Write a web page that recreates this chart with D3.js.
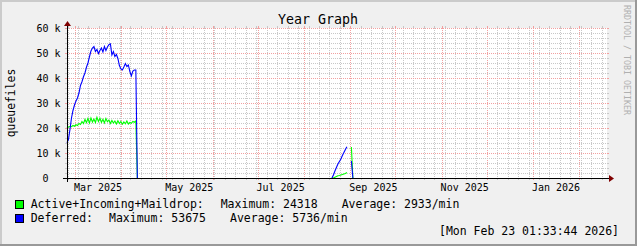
<!DOCTYPE html>
<html>
<head>
<meta charset="utf-8">
<script src="https://cdn.jsdelivr.net/npm/d3@7/dist/d3.min.js"></script>
<style>
  body { margin: 0; background: #f0f0f0; }
  svg { display: block; }
  text { font-family: "DejaVu Sans Mono", monospace; fill: #000; }
</style>
</head>
<body>
<svg id="chart" width="637" height="246"></svg>
<script>
// ---- data (queue files, one sample per day) ----
const DAY = 864e5;
const rangeStart = Date.UTC(2025, 1, 23, 15, 20);
const rangeEnd = Date.UTC(2026, 1, 19, 10, 0);

// first burst, starts at rangeStart
const springOffset = 0;
const activeSpring = [
  20000, 20400, 20600, 20500, 21000, 20700, 21300, 21000, 21800, 21400,
  22600, 21800, 23400, 22200, 23800, 22000, 24000, 22400, 23600, 22200,
  24318, 22600, 23900, 22300, 23500, 22000, 23800, 22500, 23200, 21800,
  23000, 22000, 22800, 21600, 22900, 21800, 22600, 21500, 22400, 21700,
  22800, 21600, 22200, 21900, 22600, 22300, 22800, 0
];
const deferredSpring = [
  14100, 15500, 19500, 24000, 27000, 29200, 30800, 32000, 34000, 37000,
  38500, 40500, 42000, 44300, 46000, 48500, 50800, 52000, 52600, 50600,
  51400, 49800, 51000, 52000, 50400, 52600, 51000, 52400, 53300, 53675,
  49200, 50600, 48600, 49400, 47800, 45000, 43600, 43200, 44400, 45800,
  44600, 45200, 42600, 40800, 42800, 43200, 43200, 0
];

// second burst, in days after rangeStart
const summerOffset = 177;
const activeSummer = [0, 0, 300, 600, 900, 1000, 1200, 1400, 1600, 1800, 2200, NaN, NaN, 12400, 0];
const deferredSummer = [0, 1200, 2800, 4200, 5600, 6600, 7600, 9000, 10200, 11400, 12500, NaN, NaN, 6800, 0];

const yTicks = [0, 10000, 20000, 30000, 40000, 50000, 60000];
const xTickLabels = ["Mar 2025", "May 2025", "Jul 2025", "Sep 2025", "Nov 2025", "Jan 2026"];

const seriesNames = ["Active+Incoming+Maildrop:", "Deferred:"];
const seriesColors = ["#00ff00", "#0000ff"];
const seriesMax = ["Maximum: 24318", "Maximum: 53675"];
const seriesAvg = ["Average: 2933/min", "Average: 5736/min"];

// ---- layout ----
const W = 637, H = 246;
const x0 = 67, x1 = 607, yTop = 28, yBot = 178;

const svg = d3.select("#chart");
const x = d3.scaleUtc().domain([rangeStart, rangeEnd]).range([x0, x1]);
const y = d3.scaleLinear().domain([0, 60000]).range([yBot, yTop]);

function toPoints(values, offset) {
  return values.map((v, i) => ({ t: new Date(rangeStart + (offset + i) * DAY), v }));
}

// background + 3d frame
svg.append("rect").attr("width", W).attr("height", H).attr("fill", "#f0f0f0");
svg.append("rect").attr("x", 0).attr("y", 0).attr("width", W).attr("height", 2).attr("fill", "#cbcbcb");
svg.append("rect").attr("x", 0).attr("y", 0).attr("width", 2).attr("height", H).attr("fill", "#cbcbcb");
svg.append("rect").attr("x", 0).attr("y", H - 2).attr("width", W).attr("height", 2).attr("fill", "#999");
svg.append("rect").attr("x", W - 2).attr("y", 0).attr("width", 2).attr("height", H).attr("fill", "#999");

// canvas
svg.append("rect").attr("x", x0).attr("y", yTop).attr("width", x1 - x0).attr("height", yBot - yTop).attr("fill", "#fff");

const grid = svg.append("g").attr("shape-rendering", "crispEdges");
const minorCol = "#c8c8c8", majorCol = "#f2a0a0";

// vertical minor (weekly) and major (monthly) lines
const weeks = d3.utcMonday.range(new Date(rangeStart), new Date(rangeEnd));
const months = d3.utcMonth.range(new Date(rangeStart), new Date(rangeEnd));
weeks.forEach(d => {
  const px = Math.round(x(d)) + 0.5;
  grid.append("line").attr("x1", px).attr("x2", px).attr("y1", yTop).attr("y2", yBot)
    .attr("stroke", minorCol).attr("stroke-dasharray", "1,1");
  grid.append("line").attr("x1", px).attr("x2", px).attr("y1", yBot).attr("y2", yBot + 2).attr("stroke", minorCol);
  grid.append("line").attr("x1", px).attr("x2", px).attr("y1", yTop - 2).attr("y2", yTop).attr("stroke", minorCol);
});
months.forEach(d => {
  const px = Math.round(x(d)) + 0.5;
  grid.append("line").attr("x1", px).attr("x2", px).attr("y1", yTop).attr("y2", yBot)
    .attr("stroke", majorCol).attr("stroke-dasharray", "1,1");
  grid.append("line").attr("x1", px).attr("x2", px).attr("y1", yBot).attr("y2", yBot + 2).attr("stroke", majorCol);
  grid.append("line").attr("x1", px).attr("x2", px).attr("y1", yTop - 2).attr("y2", yTop).attr("stroke", majorCol);
});

// horizontal minor (2k) and major (10k) lines
d3.range(0, 60001, 2000).forEach(v => {
  const major = v % 10000 === 0;
  const col = major ? majorCol : minorCol;
  const py = Math.round(y(v)) + 0.5;
  grid.append("line").attr("x1", x0).attr("x2", x1).attr("y1", py).attr("y2", py)
    .attr("stroke", col).attr("stroke-dasharray", "1,1");
  grid.append("line").attr("x1", x0 - 2).attr("x2", x0).attr("y1", py).attr("y2", py).attr("stroke", col);
  grid.append("line").attr("x1", x1).attr("x2", x1 + 2).attr("y1", py).attr("y2", py).attr("stroke", col);
});

// series lines
const line = d3.line()
  .defined(d => !isNaN(d.v))
  .x(d => x(d.t))
  .y(d => y(d.v));

const series = [
  [toPoints(activeSpring, springOffset), toPoints(activeSummer, summerOffset)],
  [toPoints(deferredSpring, springOffset), toPoints(deferredSummer, summerOffset)]
];
series.forEach((parts, i) => {
  parts.forEach(pts => {
    svg.append("path").datum(pts).attr("d", line)
      .attr("fill", "none").attr("stroke", seriesColors[i]).attr("stroke-width", 1.1);
  });
});

// axes lines and arrows
const axis = svg.append("g").attr("shape-rendering", "crispEdges");
axis.append("line").attr("x1", x0 - 4).attr("x2", x1 + 4).attr("y1", yBot + 0.5).attr("y2", yBot + 0.5).attr("stroke", "#000");
axis.append("line").attr("x1", x0 + 0.5).attr("x2", x0 + 0.5).attr("y1", yBot + 4).attr("y2", yTop - 4).attr("stroke", "#000");
svg.append("path")
  .attr("d", `M${x1 + 2},${yBot - 3}L${x1 + 2},${yBot + 4}L${x1 + 7},${yBot + 0.5}Z`)
  .attr("fill", "#7f0000");
svg.append("path")
  .attr("d", `M${x0 - 3},${yTop - 2}L${x0 + 4},${yTop - 2}L${x0 + 0.5},${yTop - 7}Z`)
  .attr("fill", "#7f0000");

// y tick labels
const yAxis = d3.axisLeft(y).tickValues(yTicks).tickSize(0).tickPadding(6.5)
  .tickFormat(d => d === 0 ? "0" : (d / 1000) + " k");
const gy = svg.append("g").attr("transform", `translate(${x0},0)`).call(yAxis);
gy.select(".domain").remove();
gy.selectAll("text").attr("font-size", 10).attr("font-family", "DejaVu Sans Mono").attr("fill", "#000")
  .attr("dx", d => d === 0 ? -12 : 0);

// x tick labels, centred half a month after the month start
const parseLabel = d3.utcParse("%b %Y");
const labelDates = xTickLabels.map(s => d3.utcDay.offset(parseLabel(s), 15));
const xAxis = d3.axisBottom(x).tickValues(labelDates).tickSize(0).tickPadding(5.4)
  .tickFormat((d, i) => xTickLabels[i]);
const gx = svg.append("g").attr("transform", `translate(0,${yBot})`).call(xAxis);
gx.select(".domain").remove();
gx.selectAll("text").attr("font-size", 10).attr("font-family", "DejaVu Sans Mono").attr("fill", "#000");

// title, axis title, watermark
svg.append("text").attr("x", 318).attr("y", 24).attr("text-anchor", "middle")
  .attr("font-size", 13.3).text("Year Graph");
svg.append("text").attr("transform", "translate(15,103) rotate(-90)").attr("text-anchor", "middle")
  .attr("font-size", 11.4).text("queuefiles");
svg.append("text").attr("transform", "translate(624,60) rotate(90)").attr("text-anchor", "middle")
  .attr("font-size", 8.3).style("fill", "#b0b0b0").text("RRDTOOL / TOBI OETIKER");

// legend
const legendRows = [
  { y: 208, xs: [30.7, 220.7, 341.7] },
  { y: 222, xs: [30.7, 109, 230] }
];
legendRows.forEach((row, i) => {
  svg.append("rect").attr("x", 15.5).attr("y", row.y - 7.5).attr("width", 8).attr("height", 8)
    .attr("fill", seriesColors[i]).attr("stroke", "#000").attr("shape-rendering", "crispEdges");
  [seriesNames[i], seriesMax[i], seriesAvg[i]].forEach((s, j) => {
    svg.append("text").attr("x", row.xs[j]).attr("y", row.y).attr("font-size", 11.5).text(s);
  });
});
svg.append("text").attr("x", 619).attr("y", 235).attr("text-anchor", "end")
  .attr("font-size", 11.5).text("[Mon Feb 23 01:33:44 2026]");
</script>
</body>
</html>
